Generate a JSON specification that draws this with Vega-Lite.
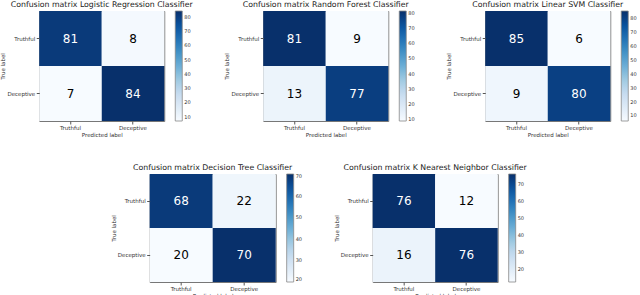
{
  "$schema": "https://vega.github.io/schema/vega-lite/v6.json",
  "padding": {"left": 0, "top": 0, "right": 0, "bottom": 0},
  "background": "white",
  "config": {
    "font": "DejaVu Sans",
    "view": {"stroke": "#777", "strokeWidth": 1},
    "title": {"fontSize": 7.8, "fontWeight": "normal", "offset": 2, "color": "#222"},
    "axis": {"labelFontSize": 5.5, "titleFontSize": 5.5, "titleFontWeight": "normal", "labelColor": "#333", "titleColor": "#333", "tickSize": 3, "tickColor": "#555", "domain": false, "grid": false, "labelPadding": 1.5, "titlePadding": 1},
    "legend": {"gradientLength": 110, "gradientThickness": 7, "labelFontSize": 5, "labelColor": "#333", "offset": 11, "gradientStrokeColor": "#888", "gradientStrokeWidth": 0.8, "labelOffset": 3, "padding": 0}
  },
  "datasets": {
    "cm": [
      {"model": "LR", "actual": "Truthful", "predicted": "Truthful", "v": 81},
      {"model": "LR", "actual": "Truthful", "predicted": "Deceptive", "v": 8},
      {"model": "LR", "actual": "Deceptive", "predicted": "Truthful", "v": 7},
      {"model": "LR", "actual": "Deceptive", "predicted": "Deceptive", "v": 84},
      {"model": "RF", "actual": "Truthful", "predicted": "Truthful", "v": 81},
      {"model": "RF", "actual": "Truthful", "predicted": "Deceptive", "v": 9},
      {"model": "RF", "actual": "Deceptive", "predicted": "Truthful", "v": 13},
      {"model": "RF", "actual": "Deceptive", "predicted": "Deceptive", "v": 77},
      {"model": "SVM", "actual": "Truthful", "predicted": "Truthful", "v": 85},
      {"model": "SVM", "actual": "Truthful", "predicted": "Deceptive", "v": 6},
      {"model": "SVM", "actual": "Deceptive", "predicted": "Truthful", "v": 9},
      {"model": "SVM", "actual": "Deceptive", "predicted": "Deceptive", "v": 80},
      {"model": "DT", "actual": "Truthful", "predicted": "Truthful", "v": 68},
      {"model": "DT", "actual": "Truthful", "predicted": "Deceptive", "v": 22},
      {"model": "DT", "actual": "Deceptive", "predicted": "Truthful", "v": 20},
      {"model": "DT", "actual": "Deceptive", "predicted": "Deceptive", "v": 70},
      {"model": "KNN", "actual": "Truthful", "predicted": "Truthful", "v": 76},
      {"model": "KNN", "actual": "Truthful", "predicted": "Deceptive", "v": 12},
      {"model": "KNN", "actual": "Deceptive", "predicted": "Truthful", "v": 16},
      {"model": "KNN", "actual": "Deceptive", "predicted": "Deceptive", "v": 76}
    ]
  },
  "vconcat": [
    {
      "hconcat": [
        {
          "title": "Confusion matrix Logistic Regression Classifier",
          "width": 125, "height": 110,
          "data": {"name": "cm"},
          "transform": [{"filter": "datum.model === 'LR'"}],
          "encoding": {
            "x": {"field": "predicted", "type": "nominal", "sort": ["Truthful", "Deceptive"], "title": "Predicted label", "axis": {"labelAngle": 0}},
            "y": {"field": "actual", "type": "nominal", "sort": ["Truthful", "Deceptive"], "title": "True label"}
          },
          "layer": [
            {"mark": "rect", "encoding": {"color": {"field": "v", "type": "quantitative", "scale": {"domain": [7, 16.625, 26.25, 35.875, 45.5, 55.125, 64.75, 74.375, 84], "range": ["#f7fbff", "#deebf7", "#c6dbef", "#9ecae1", "#6baed6", "#4292c6", "#2171b5", "#08519c", "#08306b"]}, "legend": {"title": null, "values": [10, 20, 30, 40, 50, 60, 70, 80]}}}},
            {"mark": {"type": "text", "fontSize": 12}, "encoding": {"text": {"field": "v", "type": "quantitative"}, "color": {"condition": {"test": "datum.v > 45", "value": "white"}, "value": "black"}}}
          ],
          "resolve": {"scale": {"color": "independent"}}
        },
        {
          "title": "Confusion matrix Random Forest Classifier",
          "width": 125, "height": 110,
          "data": {"name": "cm"},
          "transform": [{"filter": "datum.model === 'RF'"}],
          "encoding": {
            "x": {"field": "predicted", "type": "nominal", "sort": ["Truthful", "Deceptive"], "title": "Predicted label", "axis": {"labelAngle": 0}},
            "y": {"field": "actual", "type": "nominal", "sort": ["Truthful", "Deceptive"], "title": "True label"}
          },
          "layer": [
            {"mark": "rect", "encoding": {"color": {"field": "v", "type": "quantitative", "scale": {"domain": [9, 18, 27, 36, 45, 54, 63, 72, 81], "range": ["#f7fbff", "#deebf7", "#c6dbef", "#9ecae1", "#6baed6", "#4292c6", "#2171b5", "#08519c", "#08306b"]}, "legend": {"title": null, "values": [10, 20, 30, 40, 50, 60, 70, 80]}}}},
            {"mark": {"type": "text", "fontSize": 12}, "encoding": {"text": {"field": "v", "type": "quantitative"}, "color": {"condition": {"test": "datum.v > 45", "value": "white"}, "value": "black"}}}
          ],
          "resolve": {"scale": {"color": "independent"}}
        },
        {
          "title": "Confusion matrix Linear SVM Classifier",
          "width": 125, "height": 110,
          "data": {"name": "cm"},
          "transform": [{"filter": "datum.model === 'SVM'"}],
          "encoding": {
            "x": {"field": "predicted", "type": "nominal", "sort": ["Truthful", "Deceptive"], "title": "Predicted label", "axis": {"labelAngle": 0}},
            "y": {"field": "actual", "type": "nominal", "sort": ["Truthful", "Deceptive"], "title": "True label"}
          },
          "layer": [
            {"mark": "rect", "encoding": {"color": {"field": "v", "type": "quantitative", "scale": {"domain": [6, 15.875, 25.75, 35.625, 45.5, 55.375, 65.25, 75.125, 85], "range": ["#f7fbff", "#deebf7", "#c6dbef", "#9ecae1", "#6baed6", "#4292c6", "#2171b5", "#08519c", "#08306b"]}, "legend": {"title": null, "values": [10, 20, 30, 40, 50, 60, 70, 80]}}}},
            {"mark": {"type": "text", "fontSize": 12}, "encoding": {"text": {"field": "v", "type": "quantitative"}, "color": {"condition": {"test": "datum.v > 45", "value": "white"}, "value": "black"}}}
          ],
          "resolve": {"scale": {"color": "independent"}}
        }
      ],
      "spacing": 30,
      "resolve": {"scale": {"color": "independent"}}
    },
    {
      "hconcat": [
        {
          "title": "Confusion matrix Decision Tree Classifier",
          "width": 126, "height": 108,
          "data": {"name": "cm"},
          "transform": [{"filter": "datum.model === 'DT'"}],
          "encoding": {
            "x": {"field": "predicted", "type": "nominal", "sort": ["Truthful", "Deceptive"], "title": "Predicted label", "axis": {"labelAngle": 0}},
            "y": {"field": "actual", "type": "nominal", "sort": ["Truthful", "Deceptive"], "title": "True label"}
          },
          "layer": [
            {"mark": "rect", "encoding": {"color": {"field": "v", "type": "quantitative", "scale": {"domain": [20, 26.25, 32.5, 38.75, 45, 51.25, 57.5, 63.75, 70], "range": ["#f7fbff", "#deebf7", "#c6dbef", "#9ecae1", "#6baed6", "#4292c6", "#2171b5", "#08519c", "#08306b"]}, "legend": {"title": null, "gradientLength": 108, "values": [20, 30, 40, 50, 60, 70]}}}},
            {"mark": {"type": "text", "fontSize": 12}, "encoding": {"text": {"field": "v", "type": "quantitative"}, "color": {"condition": {"test": "datum.v > 45", "value": "white"}, "value": "black"}}}
          ],
          "resolve": {"scale": {"color": "independent"}}
        },
        {
          "title": "Confusion matrix K Nearest Neighbor Classifier",
          "width": 125, "height": 108,
          "data": {"name": "cm"},
          "transform": [{"filter": "datum.model === 'KNN'"}],
          "encoding": {
            "x": {"field": "predicted", "type": "nominal", "sort": ["Truthful", "Deceptive"], "title": "Predicted label", "axis": {"labelAngle": 0}},
            "y": {"field": "actual", "type": "nominal", "sort": ["Truthful", "Deceptive"], "title": "True label"}
          },
          "layer": [
            {"mark": "rect", "encoding": {"color": {"field": "v", "type": "quantitative", "scale": {"domain": [12, 20, 28, 36, 44, 52, 60, 68, 76], "range": ["#f7fbff", "#deebf7", "#c6dbef", "#9ecae1", "#6baed6", "#4292c6", "#2171b5", "#08519c", "#08306b"]}, "legend": {"title": null, "gradientLength": 108, "values": [20, 30, 40, 50, 60, 70]}}}},
            {"mark": {"type": "text", "fontSize": 12}, "encoding": {"text": {"field": "v", "type": "quantitative"}, "color": {"condition": {"test": "datum.v > 45", "value": "white"}, "value": "black"}}}
          ],
          "resolve": {"scale": {"color": "independent"}}
        }
      ],
      "spacing": 30,
      "resolve": {"scale": {"color": "independent"}}
    }
  ],
  "spacing": 25,
  "center": true,
  "resolve": {"scale": {"color": "independent"}}
}
